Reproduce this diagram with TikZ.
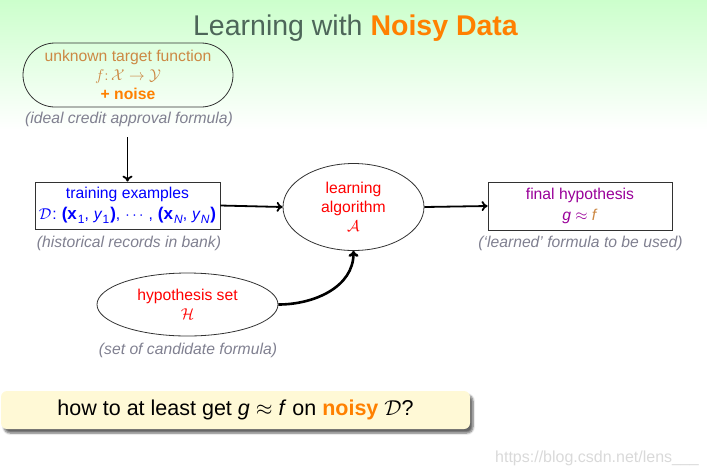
\RequirePackage{fix-cm}
\documentclass[tikz,border=0pt]{standalone}
\usepackage{fontspec}
\setmainfont{Liberation Sans}
\usetikzlibrary{shapes.geometric,shadows.blur,arrows.meta}
\definecolor{titlec}{RGB}{77,102,89}
\definecolor{orng}{RGB}{255,128,0}
\definecolor{brn}{RGB}{204,136,68}
\definecolor{capc}{RGB}{128,128,144}
\definecolor{purp}{RGB}{153,0,153}
\definecolor{qfill}{RGB}{255,249,214}
\definecolor{edgec}{RGB}{50,50,50}
\newcommand{\sbs}[1]{\raisebox{-0.28em}{\fontsize{12}{12}\selectfont #1}}
\newcommand{\gp}{\hspace{5pt}}
\newcommand{\bpar}[1]{{\fontsize{17}{18}\selectfont\bfseries #1}}
\begin{document}
\begin{tikzpicture}[x=1pt,y=-1pt,
  txt/.style={font=\fontsize{15.7}{18.8}\selectfont, align=center, inner sep=0pt},
  capt/.style={font=\fontsize{15.7}{18.8}\selectfont\itshape, text=capc, anchor=base, inner sep=0pt},
  shapeline/.style={draw=edgec, line width=0.8pt},
  flow/.style={draw, -{To[length=6pt,width=10pt]}, line width=1.8pt},
  qbox/.style={fill=qfill, rounded corners=6pt, inner sep=0pt,
    font=\fontsize{21.5}{26}\selectfont,
    blur shadow={shadow xshift=3pt, shadow yshift=-4pt, shadow opacity=60, shadow blur steps=6}}
]
\useasboundingbox (0,0) rectangle (707,475);
\shade[top color=green!20, bottom color=white] (0,0) rectangle (707,130);

\node[anchor=base, text=titlec, font=\fontsize{28.5}{34}\selectfont, inner sep=0pt] (title) at (355.5,35)
  {Learning with \textbf{\color{orng}Noisy Data}};

\node[txt, shapeline, rounded corners=32pt, minimum width=210pt, minimum height=64pt, text=brn] (target) at (128,75)
  {unknown target function\\ $f\colon \mathcal{X}\to\mathcal{Y}$\\ \textcolor{orng}{\textbf{+ noise}}};
\node[capt] (cap1) at (129,123) {(ideal credit approval formula)};

\node[txt, shapeline, minimum width=185pt, minimum height=47pt, text=blue] (train) at (127.5,205.5)
  {training examples\\[2pt] $\mathcal{D}$\kern1pt:\gp\bpar{(x}\kern1pt\sbs{1},\gp\textit{y}\sbs{1}\kern1pt\bpar{)},\gp$\cdots$\gp,\gp\bpar{(x}\kern1pt\sbs{\textit{N}},\gp\textit{y}\sbs{\textit{N}}\kern1pt\bpar{)}};
\node[capt] (cap2) at (129,247) {(historical records in bank)};

\node[txt, shapeline, ellipse, minimum width=141pt, minimum height=87pt, text=red] (learn) at (353.5,207)
  {learning\\ algorithm\\ $\mathcal{A}$};

\node[txt, shapeline, minimum width=184pt, minimum height=48pt, text=purp] (final) at (580,206)
  {final hypothesis\\[2pt] \textit{g} $\approx$ \textcolor{brn}{\textit{f}}};
\node[capt] (cap3) at (580.5,247) {(`learned' formula to be used)};

\node[txt, shapeline, ellipse, minimum width=181pt, minimum height=63pt, text=red] (hyp) at (187.5,304.5)
  {hypothesis set\\ $\mathcal{H}$};
\node[capt] (cap4) at (188,354) {(set of candidate formula)};

\draw[flow, shorten <=11pt] (cap1.south -| train.north) -- (train.north);
\draw[flow] (train.east) -- (learn.west);
\draw[flow] (learn.east) -- (final.west);
\draw[flow, line width=2.6pt] (hyp.east) to[out=0,in=-90] (learn.south);

\node[qbox, minimum width=469pt, minimum height=38pt] (q) at (235.5,410)
  {how to at least get \textit{g} $\approx$ \textit{f} on \textcolor{orng}{\textbf{noisy}} $\mathcal{D}$?};

\node[anchor=base west, text=gray!30, font=\fontsize{16}{19}\selectfont, inner sep=0pt] (wm) at (495,462)
  {https://blog.csdn.net/lens\_\_\_};
\end{tikzpicture}
\end{document}
